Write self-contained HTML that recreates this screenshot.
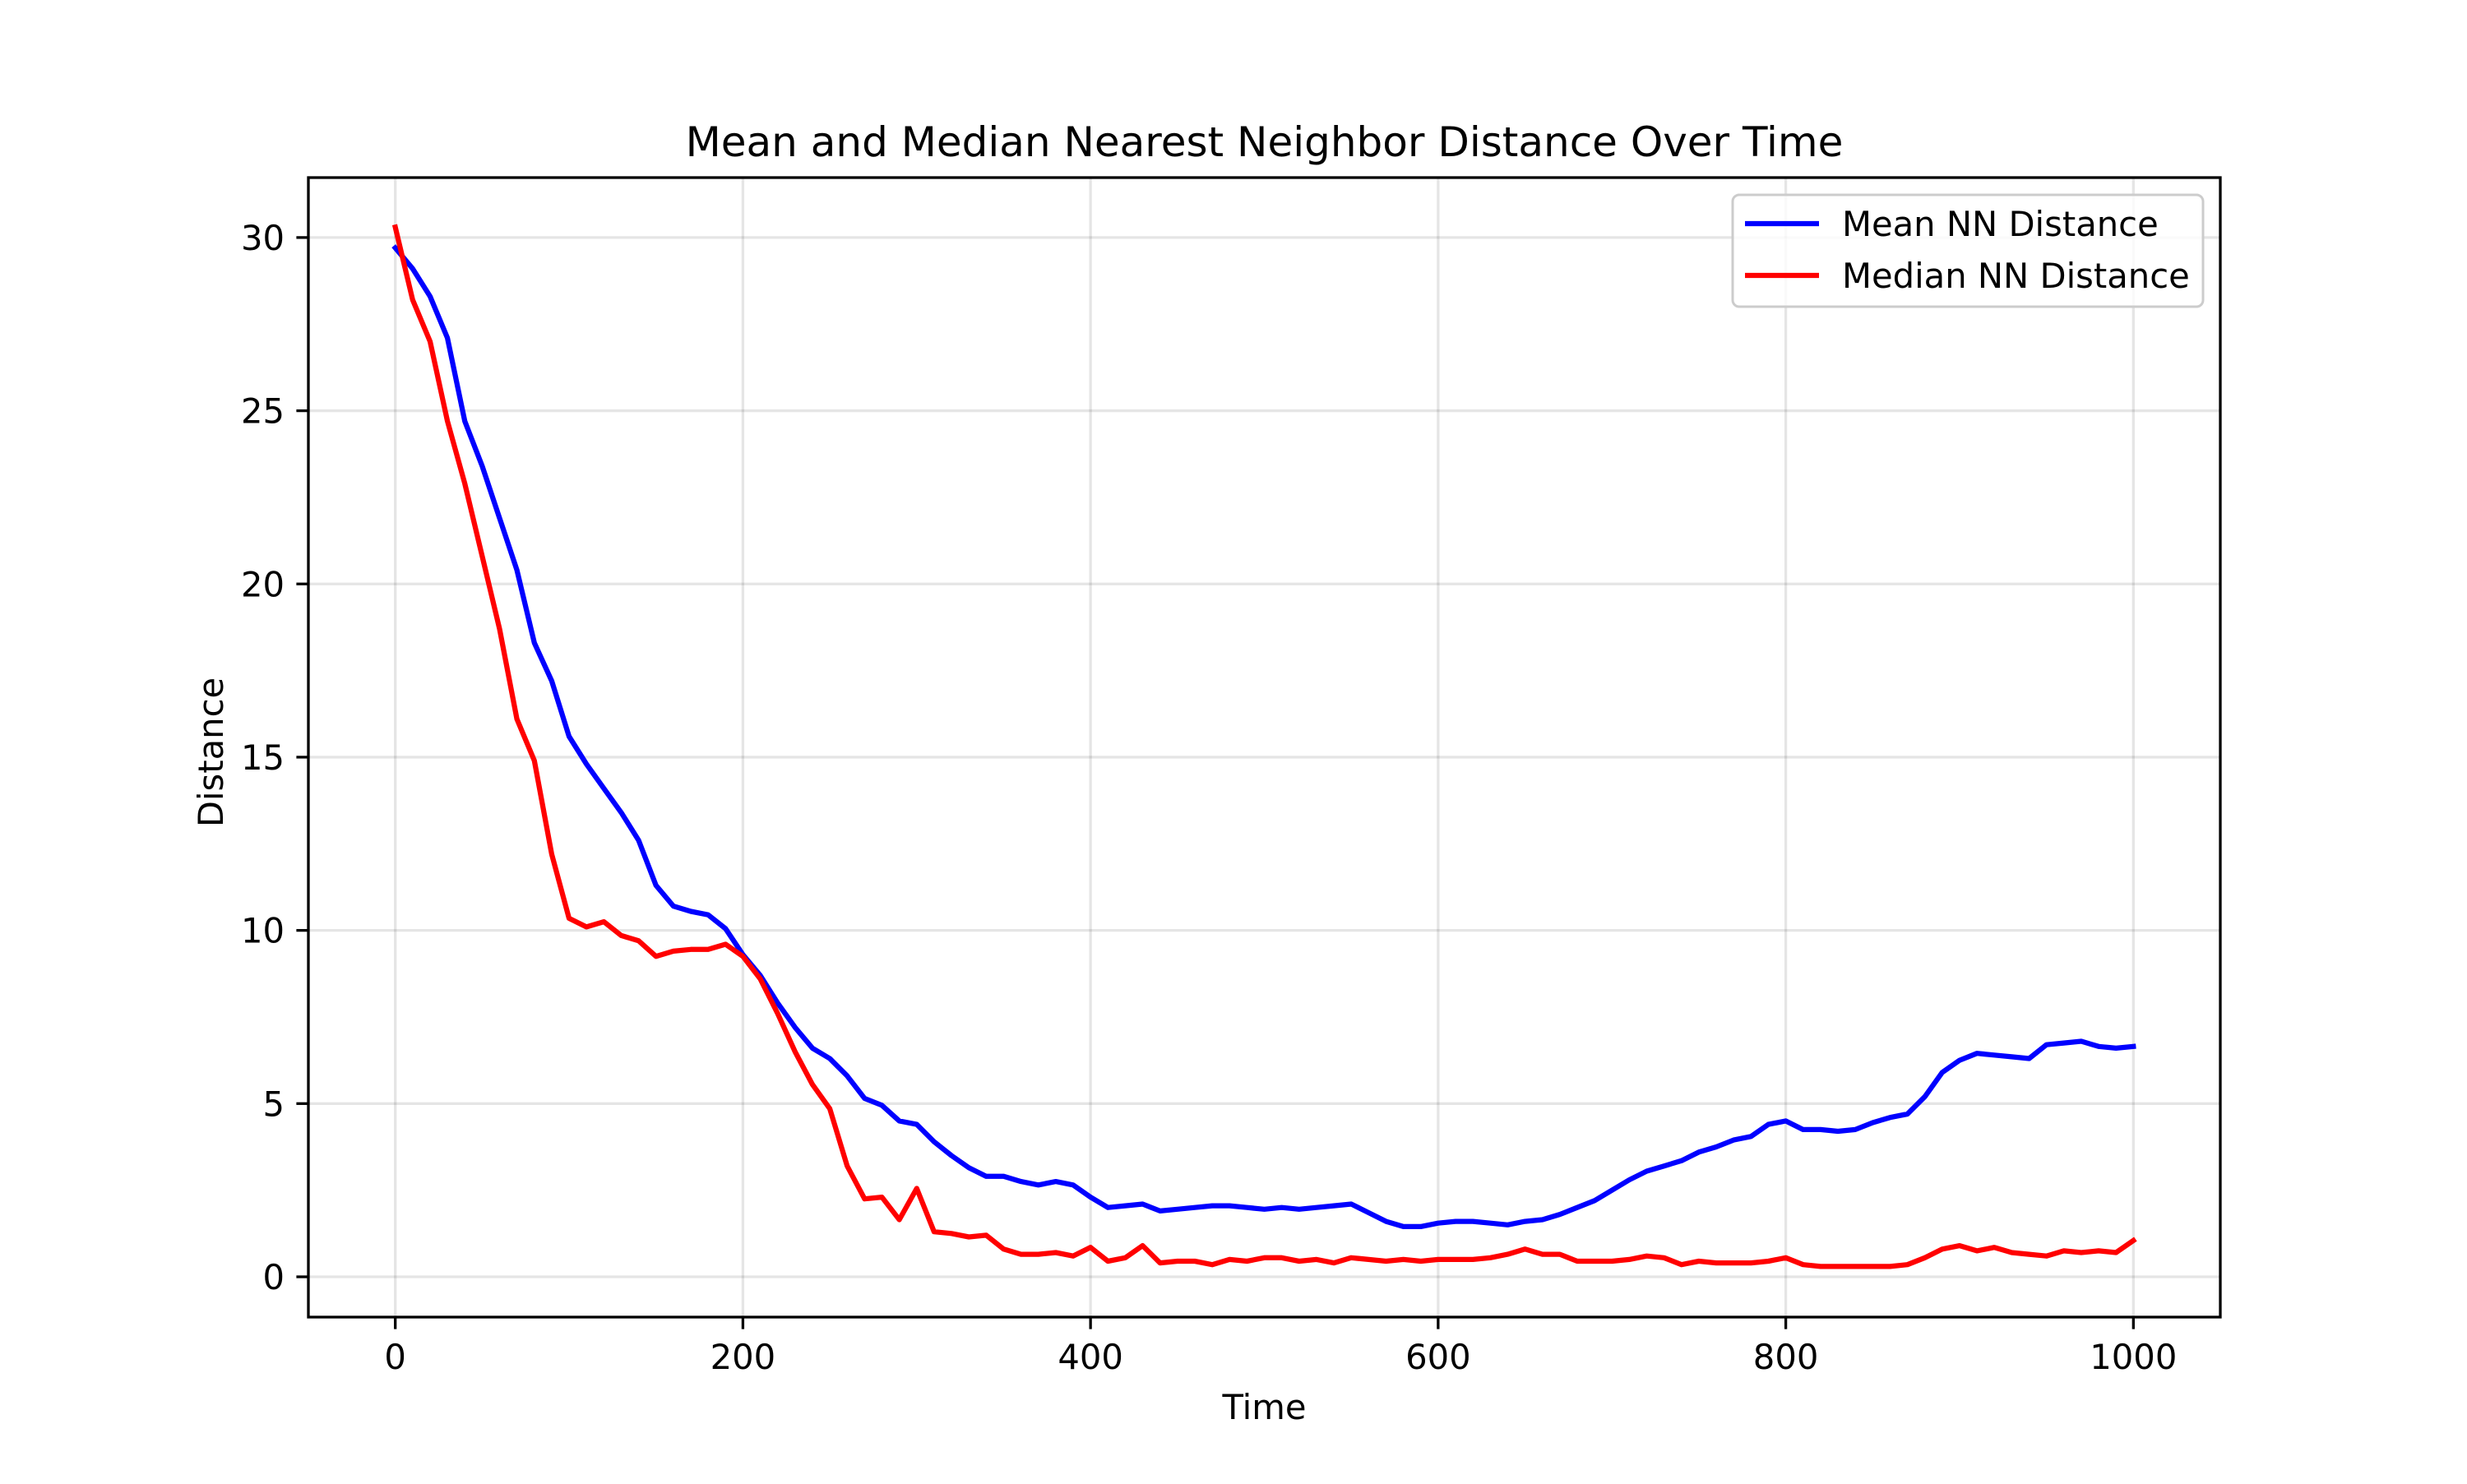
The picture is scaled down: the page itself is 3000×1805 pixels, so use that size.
<!DOCTYPE html>
<html><head><meta charset="utf-8"><style>
body{margin:0;background:#fff}
svg text{font-family:"DejaVu Sans","Liberation Sans",sans-serif;fill:#000}
</style></head><body>
<svg id="chart" width="3000" height="1800" viewBox="0 0 3000 1800" xmlns="http://www.w3.org/2000/svg">
<rect width="3000" height="1800" fill="#fff"/>
<g id="grid"></g>
<g id="series"></g>
<rect x="375" y="216" width="2325" height="1386" fill="none" stroke="#000" stroke-width="3.3"/>
<g id="ticks"></g>
<text x="1537.5" y="190" font-size="50" text-anchor="middle">Mean and Median Nearest Neighbor Distance Over Time</text>
<text x="1537.5" y="1726" font-size="41.7" text-anchor="middle">Time</text>
<text transform="translate(271,915) rotate(-90)" font-size="41.7" text-anchor="middle">Distance</text>
<g>
<rect x="2107" y="237" width="572" height="136" rx="8" fill="#fff" fill-opacity="0.8" stroke="#ccc" stroke-width="3"/>
<line x1="2122" y1="272" x2="2212" y2="272" stroke="#0000ff" stroke-width="6.25"/>
<text x="2240" y="287" font-size="41.7">Mean NN Distance</text>
<line x1="2122" y1="335" x2="2212" y2="335" stroke="#ff0000" stroke-width="6.25"/>
<text x="2240" y="350" font-size="41.7">Median NN Distance</text>
</g>
</svg>
<script>
const times = Array.from({length:101},(_,i)=>i*10);
const meanValues = [29.7,29.1,28.3,27.1,24.7,23.4,21.9,20.4,18.3,17.2,15.6,14.8,14.1,13.4,12.6,11.3,10.7,10.55,10.45,10.05,9.3,8.7,7.9,7.2,6.6,6.3,5.8,5.15,4.95,4.5,4.4,3.9,3.5,3.15,2.9,2.9,2.75,2.65,2.75,2.65,2.3,2.0,2.05,2.1,1.9,1.95,2.0,2.05,2.05,2.0,1.95,2.0,1.95,2.0,2.05,2.1,1.85,1.6,1.45,1.45,1.55,1.6,1.6,1.55,1.5,1.6,1.65,1.8,2.0,2.2,2.5,2.8,3.05,3.2,3.35,3.6,3.75,3.95,4.05,4.4,4.5,4.25,4.25,4.2,4.25,4.45,4.6,4.7,5.2,5.9,6.25,6.45,6.4,6.35,6.3,6.7,6.75,6.8,6.65,6.6,6.65];
const medianValues = [30.3,28.2,27.0,24.7,22.9,20.8,18.7,16.1,14.9,12.2,10.35,10.1,10.25,9.85,9.7,9.25,9.4,9.45,9.45,9.6,9.25,8.6,7.6,6.5,5.55,4.85,3.2,2.25,2.3,1.65,2.55,1.3,1.25,1.15,1.2,0.8,0.65,0.65,0.7,0.6,0.85,0.45,0.55,0.9,0.4,0.45,0.45,0.35,0.5,0.45,0.55,0.55,0.45,0.5,0.4,0.55,0.5,0.45,0.5,0.45,0.5,0.5,0.5,0.55,0.65,0.8,0.65,0.65,0.45,0.45,0.45,0.5,0.6,0.55,0.35,0.45,0.4,0.4,0.4,0.45,0.55,0.35,0.3,0.3,0.3,0.3,0.3,0.35,0.55,0.8,0.9,0.75,0.85,0.7,0.65,0.6,0.75,0.7,0.75,0.7,1.05];
const xTicks = [0,200,400,600,800,1000];
const yTicks = [0,5,10,15,20,25,30];

const NS='http://www.w3.org/2000/svg';
const L=375,R=2700,T=216,B=1602;
const xMin=-50,xMax=1050,yMin=-1.163,yMax=31.73;
const xs=v=>L+(v-xMin)/(xMax-xMin)*(R-L);
const ys=v=>B-(v-yMin)/(yMax-yMin)*(B-T);
function mk(tag,attrs,parent){const e=document.createElementNS(NS,tag);for(const k in attrs)e.setAttribute(k,attrs[k]);parent.appendChild(e);return e;}
const grid=document.getElementById('grid'),ticks=document.getElementById('ticks'),series=document.getElementById('series');
xTicks.forEach(t=>{
  const g=mk('line',{x1:xs(t),x2:xs(t),y1:T,y2:B,stroke:'#000','stroke-opacity':0.1,'stroke-width':3.3},grid);
  
  
  const tk=mk('line',{x1:xs(t),x2:xs(t),y1:B,y2:B+14.6,stroke:'#000','stroke-width':3.3},ticks);
  
  
  const tx=mk('text',{x:xs(t),y:B+63,'font-size':41.7,'text-anchor':'middle'},ticks);
  tx.textContent=t;
  
  
});
yTicks.forEach(t=>{
  const g=mk('line',{x1:L,x2:R,y1:ys(t),y2:ys(t),stroke:'#000','stroke-opacity':0.1,'stroke-width':3.3},grid);
  
  
  const tk=mk('line',{x1:L-14.6,x2:L,y1:ys(t),y2:ys(t),stroke:'#000','stroke-width':3.3},ticks);
  
  
  const tx=mk('text',{x:L-29,y:ys(t)+15,'font-size':41.7,'text-anchor':'end'},ticks);
  tx.textContent=t;
  
  
});
function line(vals,color,name){
  const d=vals.map((v,i)=>(i?'L':'M')+xs(times[i]).toFixed(1)+','+ys(v).toFixed(1)).join('');
  const p=mk('path',{d:d,fill:'none',stroke:color,'stroke-width':6.25,'stroke-linejoin':'round','stroke-linecap':'square'},series);
  
  
}
line(meanValues,'#0000ff','mean-nn-distance-line');
line(medianValues,'#ff0000','median-nn-distance-line');
</script>
</body></html>
